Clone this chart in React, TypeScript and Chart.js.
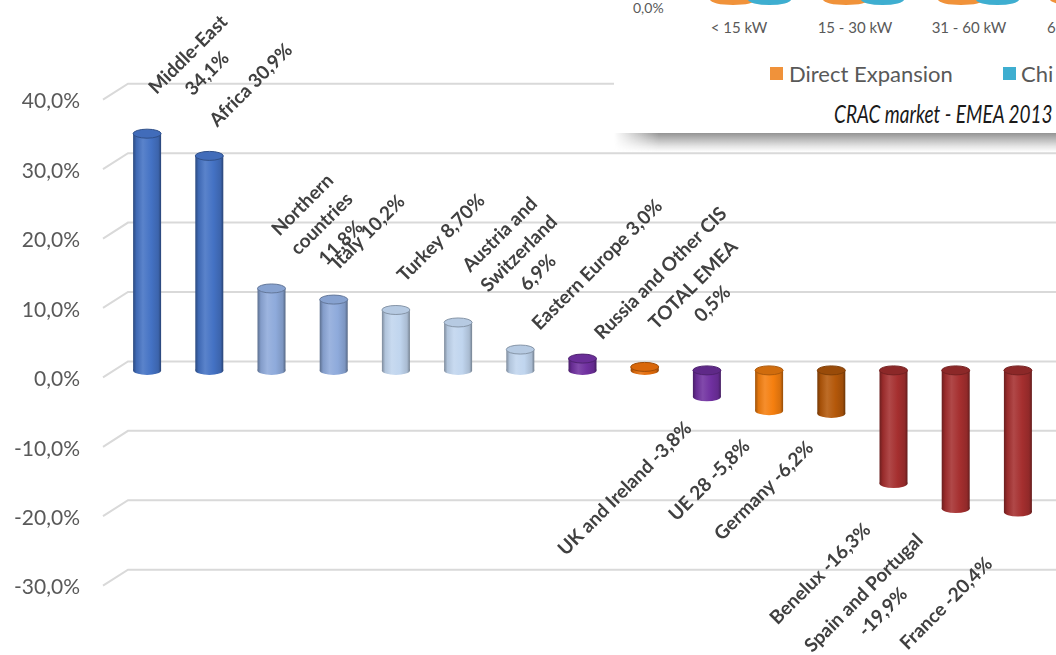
import React, { useEffect, useRef } from "react";
import { Chart, registerables } from "chart.js";
Chart.register(...registerables);

const categories: string[] = [
  "Middle-East", "Africa", "Northern countries", "Italy", "Turkey",
  "Austria and Switzerland", "Eastern Europe", "Russia and Other CIS", "TOTAL EMEA",
  "UK and Ireland", "UE 28", "Germany", "Benelux", "Spain and Portugal", "France",
];
const values: number[] = [34.1, 30.9, 11.8, 10.2, 8.7, 6.9, 3.0, 1.7, 0.5, -3.8, -5.8, -6.2, -16.3, -19.9, -20.4];
const labelLines: string[][] = [
  ["Middle-East", "34,1%"],
  ["Africa 30,9%"],
  ["Northern", "countries", "11,8%"],
  ["Italy 10,2%"],
  ["Turkey 8,70%"],
  ["Austria and", "Switzerland", "6,9%"],
  ["Eastern Europe 3,0%"],
  ["Russia and Other CIS"],
  ["TOTAL EMEA", "0,5%"],
  ["UK and Ireland -3,8%"],
  ["UE 28 -5,8%"],
  ["Germany -6,2%"],
  ["Benelux -16,3%"],
  ["Spain and Portugal", "-19,9%"],
  ["France -20,4%"],
];
const barColors: string[] = [
  "#4472c4", "#4472c4", "#8eaadb", "#8eaadb", "#c0d5ee", "#c0d5ee", "#c0d5ee",
  "#7030a0", "#e46c0a", "#7030a0", "#f57f0f", "#b4580a", "#a52f2f", "#a52f2f", "#a52f2f",
];
const tickValues: number[] = [40, 30, 20, 10, 0, -10, -20, -30];

const insetCategories: string[] = ["< 15 kW", "15 - 30 kW", "31 - 60 kW", "6"];
const insetLegend: string[] = ["Direct Expansion", "Chi"];
const insetColors: string[] = ["#f0923a", "#3eaed0"];
const insetCaption = "CRAC market - EMEA 2013";

function mix(hex: string, target: number, t: number): string {
  const n = parseInt(hex.slice(1), 16);
  const r = (n >> 16) & 255, g = (n >> 8) & 255, b = n & 255;
  const f = (c: number) => Math.round(c + (target - c) * t);
  return `rgb(${f(r)},${f(g)},${f(b)})`;
}

const gridPlugin = {
  id: "grid3d",
  beforeDatasetsDraw(chart: any) {
    const ctx = chart.ctx;
    const y = chart.scales.y;
    ctx.save();
    ctx.strokeStyle = "#d9d9d9";
    ctx.lineWidth = 2;
    tickValues.forEach((v) => {
      const yb = y.getPixelForValue(v) - 9;
      ctx.beginPath();
      ctx.moveTo(103, yb + 16);
      ctx.lineTo(128, yb);
      ctx.lineTo(chart.width, yb);
      ctx.stroke();
    });
    ctx.restore();
  },
};

const cylinderPlugin = {
  id: "cylinders",
  afterDatasetsDraw(chart: any) {
    const ctx = chart.ctx;
    const meta = chart.getDatasetMeta(0);
    ctx.save();
    meta.data.forEach((bar: any, i: number) => {
      const { x, y, base, width } = bar.getProps(["x", "y", "base", "width"], true);
      const c = barColors[i];
      const top = Math.min(y, base);
      const bottom = Math.max(y, base);
      const rx = width / 2;
      const ry = 4.5;
      const g = ctx.createLinearGradient(x - rx, 0, x + rx, 0);
      g.addColorStop(0, mix(c, 0, 0.35));
      g.addColorStop(0.12, mix(c, 0, 0.08));
      g.addColorStop(0.35, mix(c, 255, 0.12));
      g.addColorStop(0.65, c);
      g.addColorStop(0.9, mix(c, 0, 0.12));
      g.addColorStop(1, mix(c, 0, 0.4));
      ctx.fillStyle = g;
      ctx.beginPath();
      ctx.ellipse(x, bottom, rx, ry, 0, 0, Math.PI * 2);
      ctx.fill();
      ctx.fillRect(x - rx, top, width, bottom - top);
      ctx.beginPath();
      ctx.ellipse(x, top, rx, ry, 0, 0, Math.PI * 2);
      ctx.fillStyle = values[i] >= 0 ? mix(c, 0, 0.05) : mix(c, 0, 0.15);
      ctx.fill();
      ctx.strokeStyle = mix(c, 0, 0.3);
      ctx.lineWidth = 1;
      ctx.stroke();
    });
    ctx.restore();
  },
};

const labelPlugin = {
  id: "rotLabels",
  afterDatasetsDraw(chart: any) {
    const ctx = chart.ctx;
    const meta = chart.getDatasetMeta(0);
    ctx.save();
    ctx.font = "bold 19px Lato";
    ctx.fillStyle = "#404040";
    ctx.textAlign = "center";
    ctx.textBaseline = "middle";
    const lineH = 27;
    meta.data.forEach((bar: any, i: number) => {
      const { x, y, base } = bar.getProps(["x", "y", "base"], true);
      const lines = labelLines[i];
      const n = lines.length;
      const wRaw = Math.max(...lines.map((l) => ctx.measureText(l).width));
      let cx: number, cy: number;
      if (values[i] >= 0) {
        const w = 1.05 * wRaw;
        const top = Math.min(y, base);
        cx = x + 0.5 * w - 15 + 12 * (n - 1);
        cy = top - 0.2 * w - 48;
      } else {
        const bottom = Math.max(y, base);
        const deep = Math.max(0, Math.abs(values[i]) - 6);
        cx = x - 0.3 * wRaw - 28 - 0.5 * deep;
        cy = bottom + 0.3 * wRaw + 38 + 1.2 * deep - 8 * (n - 1);
      }
      ctx.save();
      ctx.translate(cx, cy);
      ctx.rotate(-Math.PI / 4);
      lines.forEach((l, k) => {
        ctx.fillText(l, 0, (k - (n - 1) / 2) * lineH);
      });
      ctx.restore();
    });
    ctx.restore();
  },
};

export default function App() {
  const ref = useRef<HTMLCanvasElement | null>(null);
  useEffect(() => {
    if (!ref.current) return;
    const chart = new Chart(ref.current, {
      type: "bar",
      data: {
        labels: categories,
        datasets: [
          {
            data: values,
            backgroundColor: "rgba(0,0,0,0)",
            borderWidth: 0,
            barPercentage: 0.9,
            categoryPercentage: 0.5,
          },
        ],
      },
      options: {
        animation: false,
        responsive: true,
        maintainAspectRatio: false,
        layout: { padding: { top: 58, bottom: 39, right: 7, left: 0 } },
        plugins: { legend: { display: false }, tooltip: { enabled: false } },
        scales: {
          x: { display: false, offset: true },
          y: {
            min: -34,
            max: 45,
            grid: { display: false, drawTicks: false },
            border: { display: false },
            afterBuildTicks: (scale: any) => {
              scale.ticks = tickValues.map((v) => ({ value: v }));
            },
            afterFit: (scale: any) => {
              scale.width = 116;
            },
            ticks: {
              padding: 36,
              labelOffset: 9,
              color: "#595959",
              font: { family: "Lato", size: 21 },
              callback: (v: any) => Number(v).toFixed(1).replace(".", ",") + "%",
            },
          },
        },
      },
      plugins: [gridPlugin, cylinderPlugin, labelPlugin],
    });
    return () => chart.destroy();
  }, []);

  const catX = [739, 855, 969, 1050];
  const groupX = [710, 823, 938, 1050];
  return (
    <div style={{ position: "fixed", left: 0, top: 0, width: 1056, height: 655, background: "#fff" }}>
      <canvas ref={ref} />
      <div
        style={{
          position: "absolute", left: 614, top: 0, width: 442, height: 133, background: "#fff",
          overflow: "hidden", fontFamily: "Lato, sans-serif", color: "#595959",
        }}
      >
        {groupX.map((gx, i) => (
          <React.Fragment key={i}>
            <div style={{ position: "absolute", left: gx - 614, top: -6, width: 46, height: 11, borderRadius: "50%", background: insetColors[0] }} />
            <div style={{ position: "absolute", left: gx - 614 + 38, top: -6, width: 43, height: 11, borderRadius: "50%", background: insetColors[1] }} />
          </React.Fragment>
        ))}
        <div style={{ position: "absolute", left: 19, top: 0, fontSize: 14, lineHeight: "16px" }}>0,0%</div>
        {insetCategories.map((c, i) => (
          <div key={c} style={{ position: "absolute", left: catX[i] - 614 - 50, top: 18, width: 100, textAlign: i === 3 ? "left" : "center", fontSize: 15, lineHeight: "18px", whiteSpace: "nowrap" }}>
            {i === 3 ? <span style={{ marginLeft: 47 }}>{c}</span> : c}
          </div>
        ))}
        <div style={{ position: "absolute", left: 770 - 614, top: 67, width: 13, height: 13, background: insetColors[0] }} />
        <div style={{ position: "absolute", left: 789 - 614, top: 60, fontSize: 22, lineHeight: "28px", whiteSpace: "nowrap" }}>{insetLegend[0]}</div>
        <div style={{ position: "absolute", left: 1003 - 614, top: 67, width: 13, height: 13, background: insetColors[1] }} />
        <div style={{ position: "absolute", left: 1021 - 614, top: 60, fontSize: 22, lineHeight: "28px", whiteSpace: "nowrap" }}>{insetLegend[1]}</div>
        <div style={{ position: "absolute", right: 3, top: 98, fontSize: 25, lineHeight: "30px", fontStyle: "italic", color: "#1a1a1a", whiteSpace: "nowrap", fontFamily: "Lato, sans-serif", transform: "scaleX(0.76)", transformOrigin: "right center" }}>
          {insetCaption}
        </div>
      </div>
      <div
        style={{
          position: "absolute", left: 614, top: 133, width: 442, height: 19,
          background: "linear-gradient(to bottom, rgba(120,120,120,0.8), rgba(190,190,190,0.4) 70%, rgba(255,255,255,0))",
          WebkitMaskImage: "linear-gradient(to right, transparent 0px, black 45px)",
          maskImage: "linear-gradient(to right, transparent 0px, black 45px)",
        }}
      />
    </div>
  );
}
